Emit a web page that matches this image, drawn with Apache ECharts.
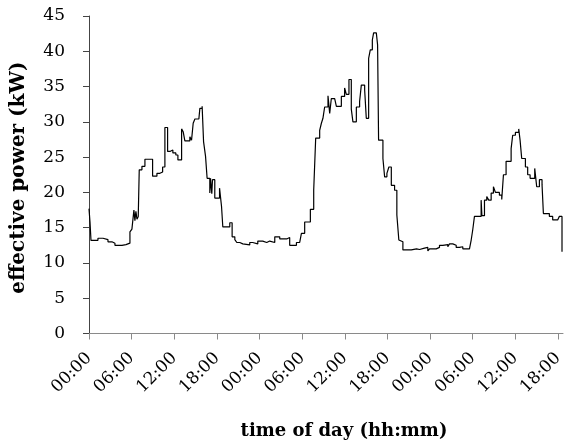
<!DOCTYPE html>
<html><head><meta charset="utf-8">
<script src="https://cdn.jsdelivr.net/npm/echarts@6/dist/echarts.min.js"></script>
<style>html,body{margin:0;padding:0;background:#fff}#c{width:564px;height:441px}</style>
</head><body><div id="c"></div>
<script>
// time since start (hours) at which each reading begins
var hours = [0.0,0.14,0.28,1.26,1.97,2.67,3.23,3.65,4.64,5.2,5.76,6.04,6.32,6.46,6.6,6.75,6.93,7.07,7.45,7.87,
8.95,9.56,9.98,10.36,10.68,11.06,11.38,11.8,12.22,12.51,13.03,13.25,13.49,14.19,14.43,14.66,14.9,15.46,15.6,15.92,
16.12,16.4,16.62,17.0,17.1,17.28,17.38,17.7,18.37,18.65,18.83,19.81,20.14,20.52,20.8,21.22,21.64,22.62,23.04,23.75,
24.45,25.01,25.43,26.14,26.84,27.82,28.24,29.19,29.65,29.89,30.35,31.15,31.62,31.9,32.46,32.7,32.92,33.16,33.63,33.87,
34.1,34.57,34.81,35.51,35.97,36.21,36.58,36.91,37.14,37.62,38.08,38.32,38.79,39.02,39.35,39.58,39.87,40.05,40.43,40.61,
40.75,41.36,41.6,41.92,42.2,42.54,43.0,43.32,43.6,43.84,44.17,45.35,46.09,46.51,47.21,47.45,47.68,47.92,48.86,49.32,
49.79,50.49,50.73,51.19,51.67,52.13,52.6,53.54,53.78,54.0,54.24,55.18,55.29,55.65,55.97,56.25,56.59,56.91,57.19,57.75,
58.08,58.32,58.69,59.4,59.62,60.0,60.47,60.66,60.89,61.41,61.73,62.07,62.72,63.0,63.38,63.75,63.94,64.78,65.25,65.95,
66.19,66.56];
// effective power (kW)
var power = [17.7,15.8,13.2,13.5,13.3,13.0,12.8,12.5,12.6,12.8,14.4,14.8,17.5,16.0,17.3,16.2,16.6,23.2,23.7,24.7,
22.3,22.7,22.9,23.6,29.2,25.8,26.0,25.6,25.3,24.6,29.0,28.6,27.3,27.9,27.4,29.8,30.4,30.6,31.9,32.2,
27.2,25.1,22.0,19.9,22.0,19.8,21.8,19.2,20.6,18.0,15.1,15.7,13.7,13.3,12.9,12.7,12.55,12.9,12.7,13.1,
12.9,13.1,12.9,13.7,13.4,13.6,12.5,12.9,13.0,14.2,15.8,17.6,20.3,27.7,28.8,29.8,30.5,32.1,33.7,31.2,
33.3,33.2,32.2,33.6,34.8,33.9,36.0,31.8,30.0,32.1,32.9,35.2,34.5,30.5,39.0,40.2,41.6,42.6,42.8,40.9,
27.4,24.8,22.2,22.7,23.6,21.0,20.3,16.8,13.25,13.0,11.85,12.0,11.9,12.1,11.9,12.2,11.7,12.0,12.2,12.5,
12.6,12.3,12.7,12.5,12.2,12.3,12.0,12.2,13.25,14.7,16.6,18.9,16.7,18.9,19.4,18.9,19.9,20.8,20.0,19.6,
19.0,22.5,24.4,26.2,28.1,28.5,29.0,27.4,24.8,23.6,22.5,22.0,23.4,20.8,21.8,21.1,17.0,16.6,16.1,16.0,
16.6,11.6];
var yTicks = [0,5,10,15,20,25,30,35,40,45];

var data = hours.map(function(h,i){return [h, power[i]];});
var chart = echarts.init(document.getElementById('c'));
chart.setOption({
  animation:false,
  backgroundColor:'#fff',
  grid:{left:89,right:1,top:16,bottom:107.5,containLabel:false,outerBoundsMode:'none'},
  xAxis:{type:'value',min:0,max:66.7,interval:6,
    name:'time of day (hh:mm)',nameLocation:'middle',nameGap:89,
    nameTextStyle:{fontFamily:'DejaVu Serif',fontWeight:'bold',fontSize:18,color:'#000',padding:[0,0,0,36]},
    axisLine:{lineStyle:{color:'#8a8a8a',width:1}},
    axisTick:{length:6,lineStyle:{color:'#8a8a8a'}},
    splitLine:{show:false},
    axisLabel:{rotate:45,margin:22,fontFamily:'DejaVu Serif',fontSize:17,color:'#000',
      showMaxLabel:false,
      formatter:function(v){var h=Math.round(v)%24;return (h<10?'0':'')+h+':00';}}
  },
  yAxis:{type:'value',min:0,max:45,interval:5,
    name:'effective power (kW)',nameLocation:'middle',nameGap:60,
    nameTextStyle:{fontFamily:'DejaVu Serif',fontWeight:'bold',fontSize:20,color:'#000',padding:[0,6,0,0]},
    axisLine:{show:true,lineStyle:{color:'#444',width:1}},
    axisTick:{show:true,length:6,lineStyle:{color:'#444'}},
    splitLine:{show:false},
    axisLabel:{margin:24,fontFamily:'DejaVu Serif',fontSize:17,color:'#000',
      formatter:function(v){return yTicks.indexOf(v)>=0?String(v):'';}}
  },
  series:[{type:'line',step:'end',data:data,showSymbol:false,
    lineStyle:{color:'#000',width:1.2}}]
});
</script></body></html>
